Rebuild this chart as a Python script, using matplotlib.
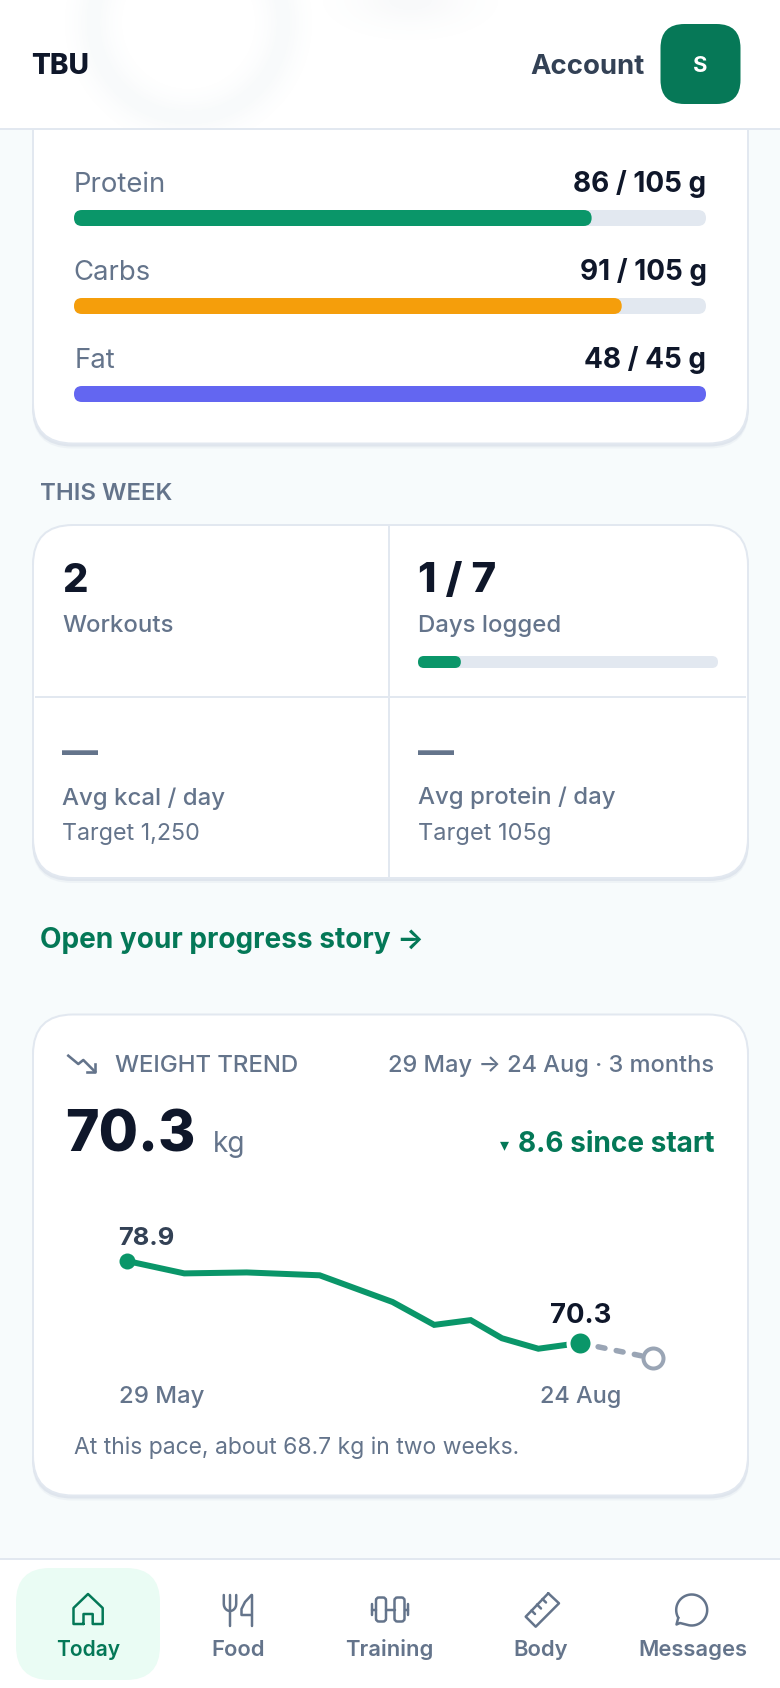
import matplotlib
matplotlib.use("Agg")
import matplotlib.pyplot as plt
from matplotlib.patches import FancyBboxPatch, Rectangle
from matplotlib.transforms import IdentityTransform
import numpy as np

# ---------- data ----------
macro_names = ["Protein", "Carbs", "Fat"]
macro_current = [86, 91, 48]
macro_target = [105, 105, 45]
macro_colors = ["#0a9669", "#f59e0b", "#6366f1"]

days_logged = 1
days_in_week = 7

stat_values = ["2", "1 / 7", "—", "—"]
stat_labels = ["Workouts", "Days logged", "Avg kcal / day", "Avg protein / day"]
stat_notes = ["", "", "Target 1,250", "Target 105g"]

weight_days = [0, 11, 23, 37, 51, 59, 66, 72, 79, 87]
weight_kg = [78.9, 77.6, 77.7, 77.4, 74.6, 72.2, 72.7, 70.8, 69.7, 70.3]
forecast_days = [87, 101]
forecast_kg = [70.3, 68.7]

nav_labels = ["Today", "Food", "Training", "Body", "Messages"]

# ---------- page ----------
W, H = 780, 1688
DPI = 100
PT = 72 / DPI
plt.rcParams["font.family"] = ["Inter", "DejaVu Sans"]
plt.rcParams["lines.scale_dashes"] = False

INK = "#0f172a"
SLATE = "#64748b"
SLATE_D = "#334155"
GREEN_D = "#047857"
GREEN = "#0a9669"
LINE = "#e2e8f0"
BG = "#f7fbfc"

fig = plt.figure(figsize=(W / DPI, H / DPI), dpi=DPI, facecolor=BG)


def px_axes(x0, y0, x1, y1, z=1):
    a = fig.add_axes([x0 / W, 1 - y1 / H, (x1 - x0) / W, (y1 - y0) / H], zorder=z)
    a.patch.set_alpha(0)
    a.axis("off")
    return a


bg = px_axes(0, 0, W, H, z=0)
bg.set_xlim(0, W)
bg.set_ylim(H, 0)
top = px_axes(0, 0, W, H, z=5)
top.set_xlim(0, W)
top.set_ylim(H, 0)


def T(ax, x, y, s, size, weight="normal", color=INK, ha="left", **kw):
    return ax.text(x, y, s, fontsize=size * PT, fontweight=weight, color=color,
                   ha=ha, va="baseline", **kw)


def card(y0, y1, x0=33, x1=748, r=40):
    for off, al in [(5, 0.25), (3, 0.6)]:
        bg.add_patch(FancyBboxPatch((x0 - 1, y0 + off), x1 - x0 + 2, y1 - y0,
                                    boxstyle=f"round,pad=0,rounding_size={r}",
                                    fc="#d5dce8", ec="none", alpha=al, zorder=1))
    bg.add_patch(FancyBboxPatch((x0, y0), x1 - x0, y1 - y0,
                                boxstyle=f"round,pad=0,rounding_size={r}",
                                fc="white", ec=LINE, lw=2 * PT, zorder=2))


def rounded_barh(ax, y, value, height, color, z=3):
    """barh through the axes' scales, with the ends rounded in pixels."""
    bar = ax.barh([y], [value], height=height, color=color, zorder=z)[0]
    e = bar.get_window_extent()
    r = e.height / 2
    clip = FancyBboxPatch((e.x0, e.y0), e.width, e.height,
                          boxstyle=f"round,pad=0,rounding_size={r}",
                          transform=IdentityTransform())
    bar.set_clip_path(clip)
    return bar


# ---------- cards ----------
card(60, 443.5)
card(525, 878)
card(1014.5, 1495.5)

# ---------- macros ----------
m_ax = px_axes(74, 202, 706, 410)
m_ax.set_xlim(0, 1)
m_ax.set_ylim((410 - 218) / 88, (202 - 218) / 88)   # rows 88 px apart, first centred at 218
name_x = [74, 73, 74.5]
for i, name in enumerate(macro_names):
    base = 192 + 88 * i
    T(bg, name_x[i], base, name, 27.5, "normal", SLATE, zorder=4)
    T(bg, 706.5, base, f"{macro_current[i]} / {macro_target[i]} g", 28, "bold", INK,
      ha="right", zorder=4)
    rounded_barh(m_ax, i, 1.0, 16 / 88, LINE)
    rounded_barh(m_ax, i, min(macro_current[i] / macro_target[i], 1), 16 / 88,
                 macro_colors[i], z=4)

# ---------- this week ----------
T(bg, 39.5, 500, "THIS WEEK", 24, "semibold", SLATE, zorder=4)
bg.plot([388.5, 388.5], [526, 877], color=LINE, lw=2 * PT, zorder=3, solid_capstyle="butt")
bg.plot([35, 746], [696.7, 696.7], color=LINE, lw=2 * PT, zorder=3, solid_capstyle="butt")

stat_x = [62.5, 418, 62.5, 418]
val_base = [592, 592, 763, 763]
val_size = [40, 42, 36, 36]
lab_base = [632.5, 632, 804.5, 804]
note_size = [0, 0, 23.3, 23.6]
for i in range(4):
    col = INK if i < 2 else SLATE
    T(bg, stat_x[i], val_base[i], stat_values[i], val_size[i], "heavy", col, zorder=4)
    T(bg, stat_x[i], lab_base[i], stat_labels[i], 24, "medium", SLATE, zorder=4)
    if stat_notes[i]:
        T(bg, stat_x[i], 840, stat_notes[i], note_size[i], "normal", SLATE, zorder=4)

d_ax = px_axes(418, 654, 718, 670)
d_ax.set_xlim(0, days_in_week)
d_ax.set_ylim(-8, 8)
rounded_barh(d_ax, 0, days_in_week, 12, LINE)
rounded_barh(d_ax, 0, days_logged, 12, GREEN, z=4)

T(bg, 40, 947.7, "Open your progress story →", 28, "bold", GREEN_D, zorder=4)

# ---------- weight card ----------
bg.plot([68.3, 78.3, 83.3, 95], [1055.7, 1064, 1060, 1071.7], color=SLATE, lw=2.6 * PT, zorder=4)
bg.plot([86.7, 95, 95], [1071.7, 1071.7, 1064], color=SLATE, lw=2.6 * PT, zorder=4)
T(bg, 115, 1072, "WEIGHT TREND", 24, "medium", SLATE, zorder=4)
T(bg, 714.5, 1072, "29 May → 24 Aug · 3 months", 23.6, "medium", SLATE, ha="right", zorder=4)
T(bg, 65.5, 1151.7, "70.3", 57, "heavy", INK, zorder=4)
T(bg, 213, 1151.7, "kg", 28, "normal", SLATE, zorder=4)
T(bg, 714.5, 1151.7, "8.6 since start", 28, "bold", GREEN_D, ha="right", zorder=4)
T(bg, 504, 1150, "▾", 18, "normal", GREEN_D, ha="center", zorder=4, family="DejaVu Sans")

# chart axes: 0 days at x=127, 87 days at x=580; 78.9 kg at y=1261, 70.3 kg at y=1343
c_x0, c_x1, c_y0, c_y1 = 80, 700, 1210, 1385
ppd = (580 - 127) / 87
ppk = (1343 - 1261) / (78.9 - 70.3)
c_ax = px_axes(c_x0, c_y0, c_x1, c_y1, z=2)
c_ax.set_xlim((c_x0 - 127) / ppd, (c_x1 - 127) / ppd)
c_ax.set_ylim(78.9 - (c_y1 - 1261) / ppk, 78.9 + (1261 - c_y0) / ppk)
c_ax.plot(forecast_days, forecast_kg, color="#9aa5b5", lw=5.5 * PT, dashes=(7 * PT, 11.5 * PT),
          dash_capstyle="round", zorder=2)
c_ax.plot(weight_days, weight_kg, color=GREEN, lw=6 * PT, solid_joinstyle="miter",
          solid_capstyle="butt", zorder=3)
c_ax.plot(weight_days[0], weight_kg[0], "o", ms=16 * PT, color=GREEN, mew=0, zorder=4)
c_ax.plot(weight_days[-1], weight_kg[-1], "o", ms=24 * PT, mfc=GREEN, mec="white", mew=4 * PT, zorder=4)
c_ax.plot(forecast_days[-1], forecast_kg[-1], "o", ms=20 * PT, mfc="white", mec="#9aa5b5",
          mew=4 * PT, zorder=4)
c_ax.annotate(f"{weight_kg[0]:.1f}", (weight_days[0], weight_kg[0]), xytext=(-9 * PT, 16 * PT),
              textcoords="offset points", fontsize=25.5 * PT, fontweight="bold", color=SLATE_D,
              ha="left", va="baseline")
c_ax.annotate(f"{weight_kg[-1]:.1f}", (weight_days[-1], weight_kg[-1]), xytext=(1 * PT, 20.3 * PT),
              textcoords="offset points", fontsize=27.5 * PT, fontweight="bold", color=INK,
              ha="center", va="baseline")
T(bg, 119, 1403.3, "29 May", 24, "medium", SLATE, zorder=4)
T(bg, 581, 1403.3, "24 Aug", 23.5, "medium", SLATE, ha="center", zorder=4)
T(bg, 74.5, 1454, "At this pace, about 68.7 kg in two weeks.", 22.9, "normal", SLATE, zorder=4)

# ---------- header ----------
top.add_patch(Rectangle((0, 0), W, 129, fc="white", ec="none", zorder=1))
# faint blurred shapes showing through the header
hy, hx = np.mgrid[0:128, 0:W]
ring = np.exp(-((np.hypot(hx - 188, hy - 22) - 95) / 18.0) ** 2) * 0.05
blob = np.exp(-((hx - 410) / 55.0) ** 2 - (hy / 25.0) ** 2) * 0.05
glow = np.zeros((128, W, 4))
glow[..., :3] = (0.45, 0.62, 0.68)
glow[..., 3] = ring
top.imshow(glow, extent=(0, W, 128, 0), aspect="auto", zorder=2, interpolation="bilinear")
glow2 = np.zeros((128, W, 4))
glow2[..., :3] = (0.45, 0.52, 0.62)
glow2[..., 3] = blob
top.imshow(glow2, extent=(0, W, 128, 0), aspect="auto", zorder=2, interpolation="bilinear")
top.set_xlim(0, W)
top.set_ylim(H, 0)
top.plot([0, W], [129, 129], color=LINE, lw=2 * PT, zorder=3)
T(top, 31, 74, "TBU", 28, "heavy", INK, zorder=5)
T(top, 644.5, 74, "Account", 27.5, "bold", SLATE_D, ha="right", zorder=5)
top.add_patch(FancyBboxPatch((660.5, 24), 80, 80, boxstyle="round,pad=0,rounding_size=24",
                             fc="#067857", ec="none", zorder=4))
T(top, 700.5, 71.7, "S", 22, "bold", "white", ha="center", zorder=5)

# ---------- nav ----------
top.add_patch(Rectangle((0, 1559), W, H - 1559, fc="white", ec="none", zorder=1))
top.plot([0, W], [1558.7, 1558.7], color=LINE, lw=2 * PT, zorder=3)
top.add_patch(FancyBboxPatch((16, 1568), 144, 112, boxstyle="round,pad=0,rounding_size=34",
                             fc="#eafcf4", ec="none", zorder=2))
nav_x = [88, 238, 389.5, 541, 692.5]
nav_size = [21, 22, 22, 22, 22]
for i, lab in enumerate(nav_labels):
    T(top, nav_x[i], 1655.7, lab, nav_size[i], "semibold", GREEN_D if i == 0 else SLATE,
      ha="center", zorder=5)

ic = dict(lw=2.5 * PT, zorder=5, solid_joinstyle="round", solid_capstyle="round")
# house
top.plot([83.5, 83.5, 92.7, 92.7, 102.7, 102.7, 88, 73.5, 73.5, 83.5],
         [1624, 1614, 1614, 1624, 1624, 1608, 1594, 1608, 1624, 1624], color=GREEN_D, **ic)
# fork and knife
t = np.linspace(np.pi, 2 * np.pi, 12)
top.plot([223.8] + list(230 + 6.2 * np.cos(t)) + [236.2],
         [1595] + list(1604 - 7 * np.sin(t)) + [1595], color=SLATE, **ic)
top.plot([230, 230], [1595, 1626], color=SLATE, **ic)
top.plot([251.5, 251.5], [1595, 1626], color=SLATE, **ic)
top.plot([251.5, 245, 241.5, 241.5, 251.5], [1595, 1602, 1609, 1615, 1615], color=SLATE, **ic)
# dumbbell
for x0_ in [376, 394.5]:
    top.add_patch(FancyBboxPatch((x0_, 1597.5), 10, 24, boxstyle="round,pad=0,rounding_size=3",
                                 fc="none", ec=SLATE, lw=2.5 * PT, zorder=5))
top.plot([386, 394.5], [1609.5, 1609.5], color=SLATE, **ic)
top.plot([372, 376], [1609.5, 1609.5], color=SLATE, **ic)
top.plot([404.5, 408], [1609.5, 1609.5], color=SLATE, **ic)
top.plot([372, 372], [1604, 1615], color=SLATE, **ic)
top.plot([408, 408], [1604, 1615], color=SLATE, **ic)
# ruler
top.plot([548.3, 559, 535.7, 525.7, 548.3], [1593.3, 1603.3, 1626.7, 1616.7, 1593.3], color=SLATE, **ic)
for a_, b_ in [((531.5, 1610.5), (535, 1614)), ((537, 1604.5), (541, 1608.5)),
               ((542.5, 1599), (546, 1602.5))]:
    top.plot([a_[0], b_[0]], [a_[1], b_[1]], color=SLATE, **ic)
# speech bubble
th = np.radians(np.linspace(150, 460, 50))
bx = 691.7 + 15.5 * np.cos(th)
by = 1610 + 15.5 * np.sin(th)
top.plot(list(bx) + [680, 676.5, bx[0]], list(by) + [1623, 1624.5, by[0]], color=SLATE, **ic)

fig.savefig("out.png", dpi=DPI, facecolor=BG)
